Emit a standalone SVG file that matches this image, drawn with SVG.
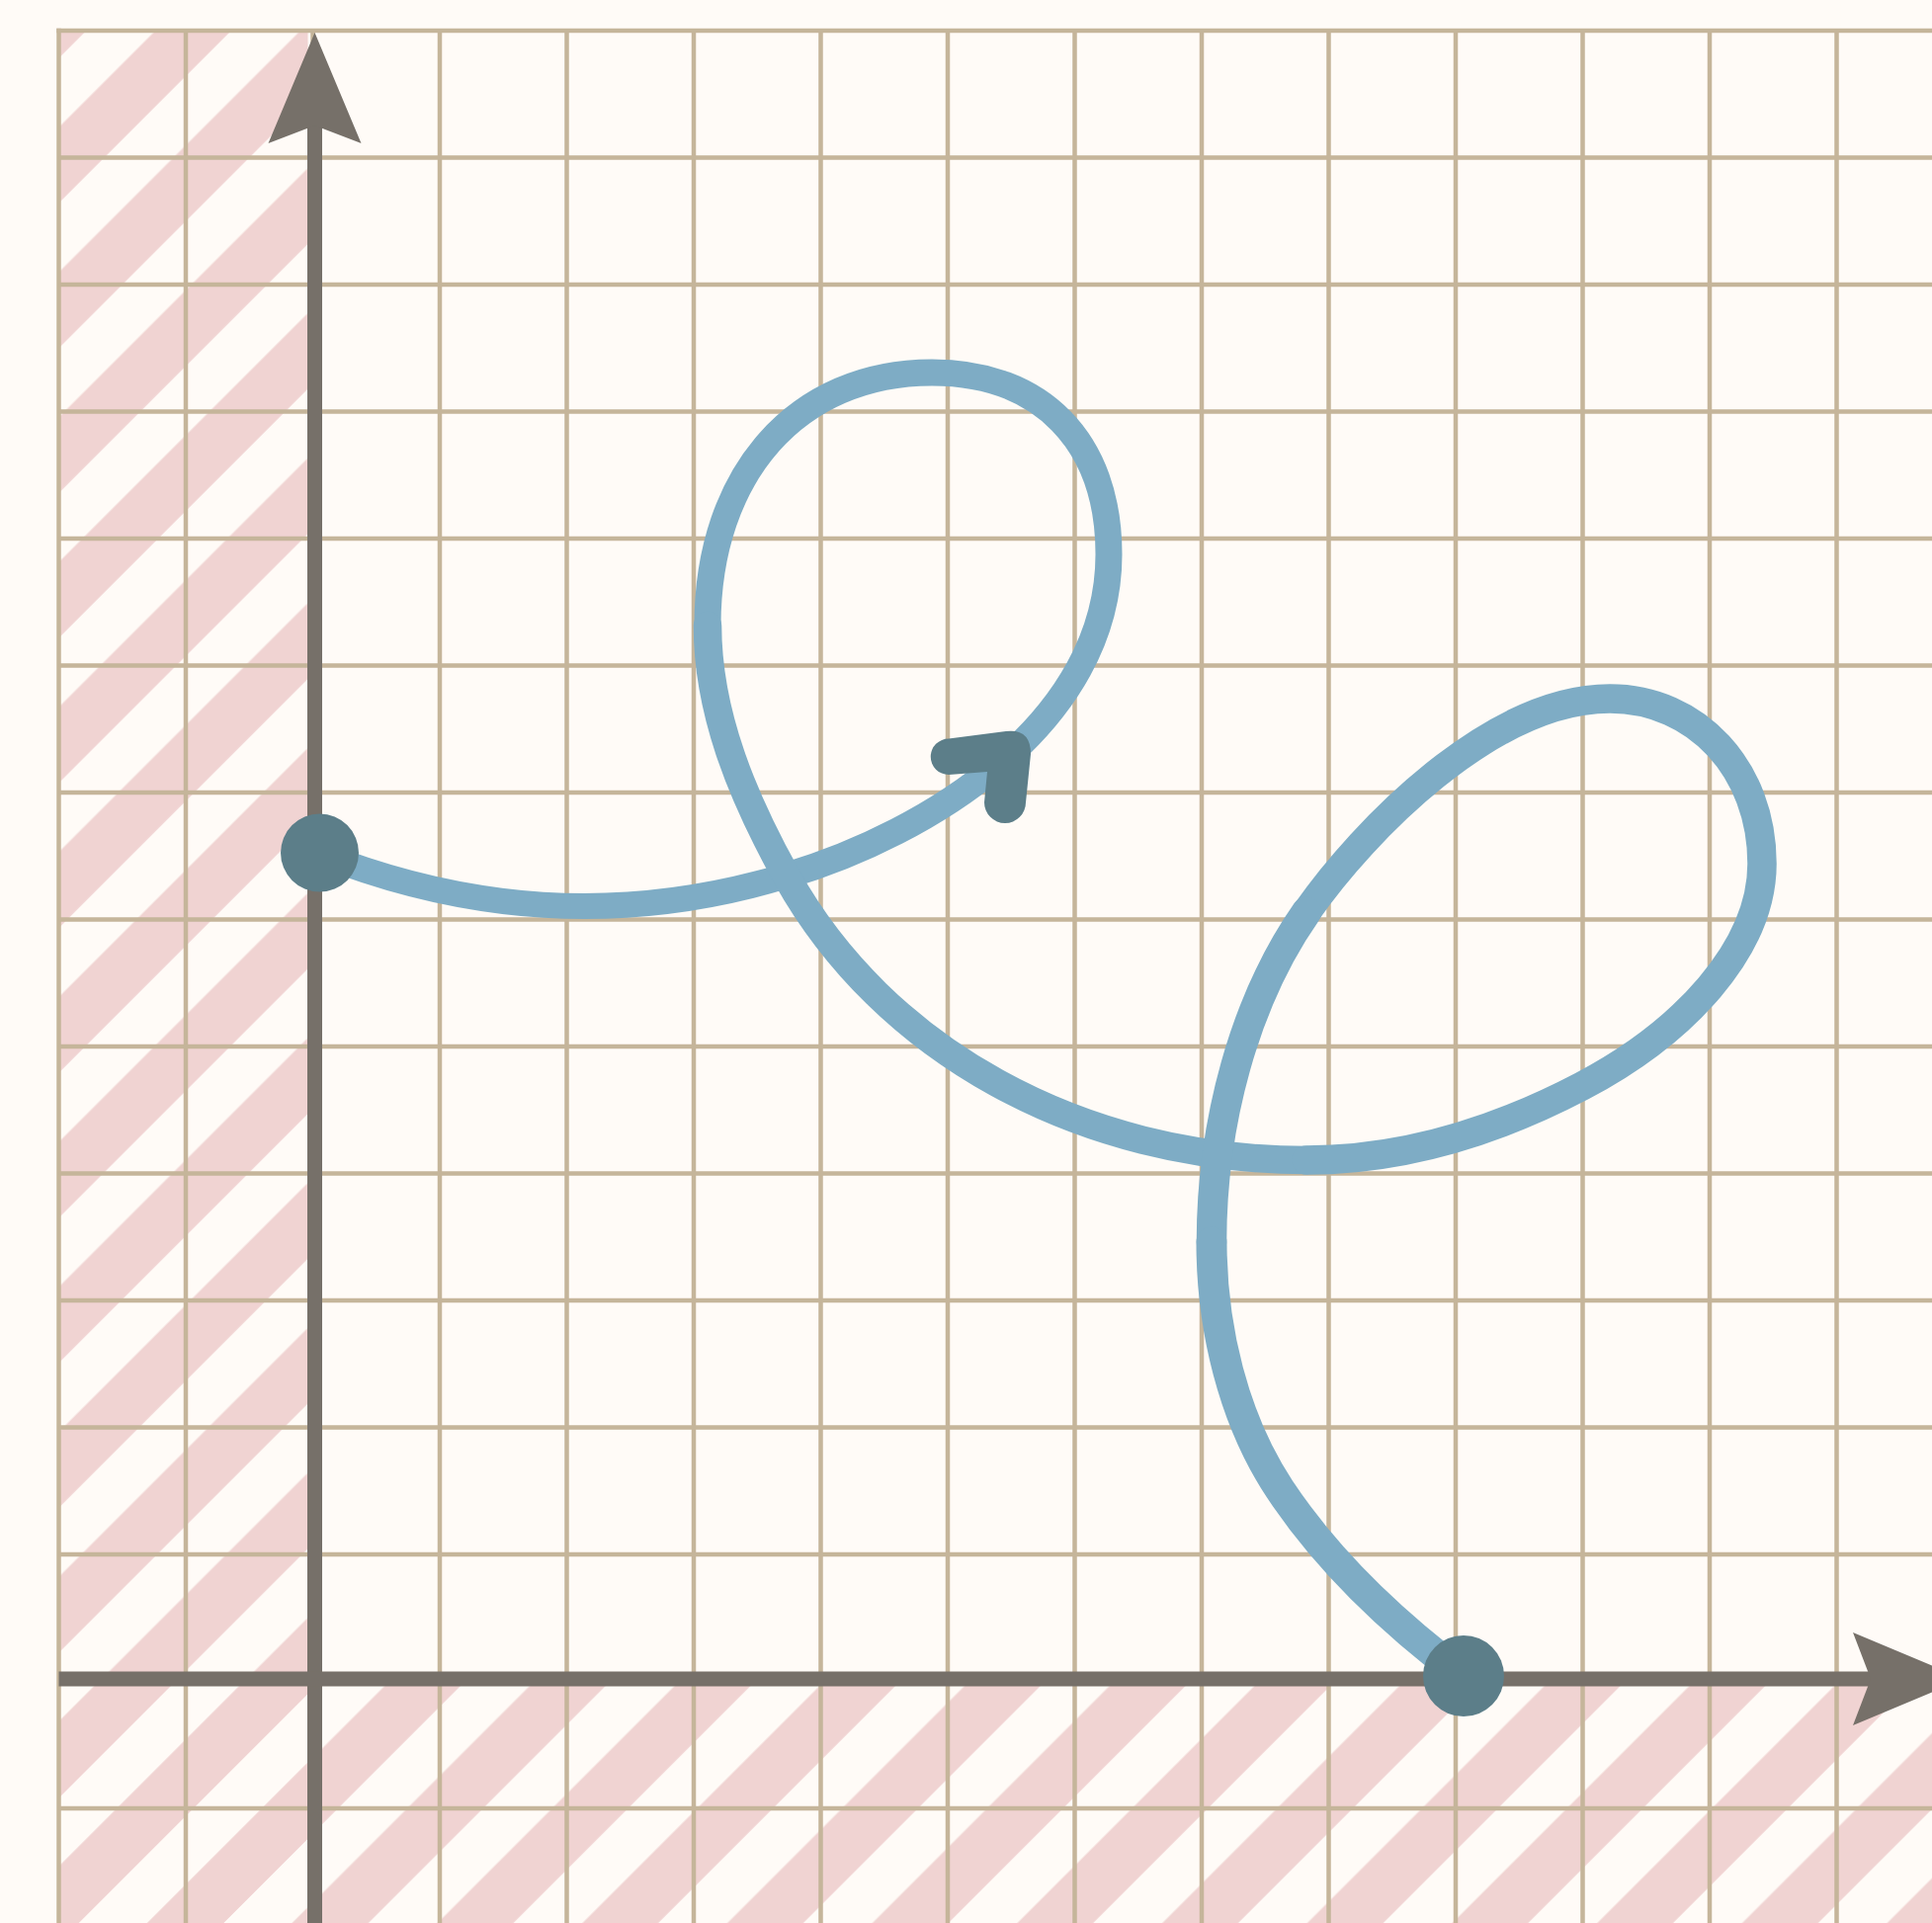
<svg xmlns="http://www.w3.org/2000/svg" width="1955" height="1946" viewBox="0 0 1955 1946">
<defs>
<style>
.grid line{stroke:#c5b59a;stroke-width:4.5}
.axis{stroke:#767069;stroke-width:15;fill:none}
.ahead{fill:#767069}
.curve path{fill:none;stroke:#7eacc5;stroke-linecap:round;stroke-linejoin:round}
.dot{fill:#5c7e89}
</style>
<pattern id="hatch" patternUnits="userSpaceOnUse" width="103.73" height="103.73" patternTransform="rotate(45)">
<rect x="29.42" y="0" width="54.23" height="103.73" fill="#f0d3d2"/>
</pattern>
</defs>
<rect width="1955" height="1946" fill="#fffbf7"/>
<g id="hatching">
<rect x="59.5" y="31" width="252" height="1915" fill="url(#hatch)"/>
<rect x="59.5" y="1699" width="1896" height="247" fill="url(#hatch)"/>
</g>
<g id="grid" class="grid">
<line x1="59.5" y1="28.75" x2="59.5" y2="1946"/>
<line x1="188" y1="31" x2="188" y2="1946"/>
<line x1="316.5" y1="31" x2="316.5" y2="1946"/>
<line x1="445" y1="31" x2="445" y2="1946"/>
<line x1="573.5" y1="31" x2="573.5" y2="1946"/>
<line x1="702" y1="31" x2="702" y2="1946"/>
<line x1="830.5" y1="31" x2="830.5" y2="1946"/>
<line x1="959" y1="31" x2="959" y2="1946"/>
<line x1="1087.5" y1="31" x2="1087.5" y2="1946"/>
<line x1="1216" y1="31" x2="1216" y2="1946"/>
<line x1="1344.5" y1="31" x2="1344.5" y2="1946"/>
<line x1="1473" y1="31" x2="1473" y2="1946"/>
<line x1="1601.5" y1="31" x2="1601.5" y2="1946"/>
<line x1="1730" y1="31" x2="1730" y2="1946"/>
<line x1="1858.5" y1="31" x2="1858.5" y2="1946"/>
<line x1="57.25" y1="31" x2="1955" y2="31"/>
<line x1="59.5" y1="159.5" x2="1955" y2="159.5"/>
<line x1="59.5" y1="288" x2="1955" y2="288"/>
<line x1="59.5" y1="416.5" x2="1955" y2="416.5"/>
<line x1="59.5" y1="545" x2="1955" y2="545"/>
<line x1="59.5" y1="673.5" x2="1955" y2="673.5"/>
<line x1="59.5" y1="802" x2="1955" y2="802"/>
<line x1="59.5" y1="930.5" x2="1955" y2="930.5"/>
<line x1="59.5" y1="1059" x2="1955" y2="1059"/>
<line x1="59.5" y1="1187.5" x2="1955" y2="1187.5"/>
<line x1="59.5" y1="1316" x2="1955" y2="1316"/>
<line x1="59.5" y1="1444.5" x2="1955" y2="1444.5"/>
<line x1="59.5" y1="1573" x2="1955" y2="1573"/>
<line x1="59.5" y1="1701.5" x2="1955" y2="1701.5"/>
<line x1="59.5" y1="1830" x2="1955" y2="1830"/>
</g>
<g id="axes">
<line class="axis" x1="318.5" y1="1946" x2="318.5" y2="120"/>
<polygon class="ahead" points="318.5,33 365.5,145 318.5,127 271.5,145"/>
<line class="axis" x1="59.5" y1="1699" x2="1900" y2="1699"/>
<polygon class="ahead" points="1987,1699 1875,1652 1893,1699 1875,1746"/>
</g>
<g id="connectors" class="curve">
<path stroke-width="26" d="M323,863.7 C480.6,926.3 638.3,933.8 796,886.1"/>
<path stroke-width="27" d="M796,886.1 C939.6,843.5 1122,731 1122,561 C1122,446.9 1054,377 943,377 C806.8,377 716,479.4 716,633"/>
<path stroke-width="28.5" d="M716,633 C716,723 752.3,808.3 796,887 C893.2,1061.8 1092,1174 1322,1174"/>
<path stroke-width="29.5" d="M1322,1174 C1412.7,1174 1505.7,1149 1601,1099 C1702.8,1045.5 1783,960.6 1783,874 C1783,778.8 1716.8,707 1629,707 C1509,707 1379.3,841.1 1322,923"/>
<path stroke-width="30.5" d="M1322,923 C1259,1013.1 1226,1137 1226,1257"/>
<path stroke-width="31" d="M1226,1257 C1226,1343 1247.7,1435.6 1295,1507 C1343.4,1580 1410.6,1643.2 1481,1696"/>
</g>
<g id="direction-arrow">
<path class="dot" d="M960,747.5 L1018,740 Q1043,737 1043,763 L1038,812 A21,21 0 0 1 996,812 L999,781 L960,784 A18.2,18.2 0 0 1 960,747.5 Z"/>
</g>
<g id="start-node">
<circle class="dot" cx="323.5" cy="863" r="39.5"/>
</g>
<g id="end-node">
<circle class="dot" cx="1481" cy="1696" r="41"/>
</g>
</svg>
